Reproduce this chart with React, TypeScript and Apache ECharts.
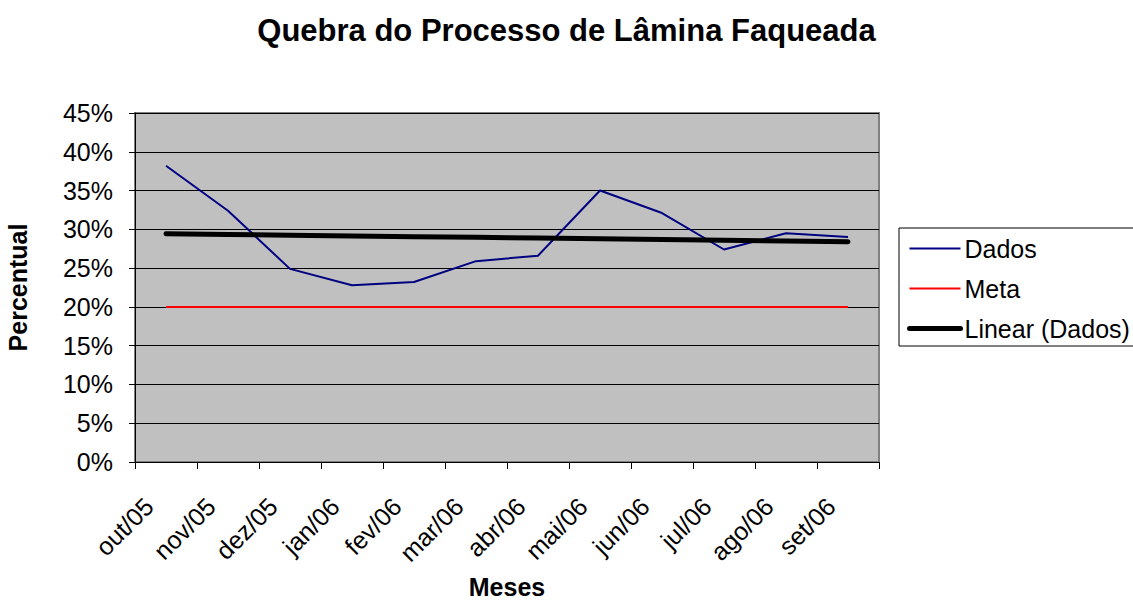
import React, { useEffect, useRef } from "react";
import * as echarts from "echarts";

const months = ["out/05", "nov/05", "dez/05", "jan/06", "fev/06", "mar/06", "abr/06", "mai/06", "jun/06", "jul/06", "ago/06", "set/06"];
const dados = [38.2, 32.4, 24.9, 22.8, 23.2, 25.9, 26.6, 35.0, 32.1, 27.4, 29.5, 29.0];
const meta = [20, 20, 20, 20, 20, 20, 20, 20, 20, 20, 20, 20];
const yTicks = { min: 0, max: 45, interval: 5 };

// Linear trendline (least squares) of Dados, as Excel's "Linear (Dados)"
function linearTrend(values: number[]): number[] {
  const n = values.length;
  const xs = values.map((_, i) => i + 1);
  const mx = xs.reduce((a, b) => a + b, 0) / n;
  const my = values.reduce((a, b) => a + b, 0) / n;
  let sxy = 0, sxx = 0;
  for (let i = 0; i < n; i++) {
    sxy += (xs[i] - mx) * (values[i] - my);
    sxx += (xs[i] - mx) * (xs[i] - mx);
  }
  const b = sxy / sxx;
  const a = my - b * mx;
  return xs.map((x) => +(a + b * x).toFixed(3));
}
const trend = linearTrend(dados);

const FONT = "'Liberation Sans', Arial, sans-serif";

export default function App() {
  const ref = useRef<HTMLDivElement>(null);
  useEffect(() => {
    if (!ref.current) return;
    const chart = echarts.init(ref.current, undefined, { renderer: "svg" });
    chart.setOption({
      animation: false,
      backgroundColor: "#ffffff",
      textStyle: { fontFamily: FONT },
      title: {
        text: "Quebra do Processo de Lâmina Faqueada",
        left: "center",
        top: 15,
        padding: 0,
        textStyle: { fontFamily: FONT, fontSize: 31, fontWeight: "bold", color: "#000" },
      },
      legend: {
        orient: "vertical",
        left: 899,
        top: 228,
        itemWidth: 51,
        itemHeight: 25,
        itemGap: 15,
        padding: [8, 6, 5, 8],
        borderColor: "#000",
        borderWidth: 1,
        backgroundColor: "#fff",
        lineStyle: { width: "inherit" },
        itemStyle: { opacity: 0 },
        textStyle: { fontFamily: FONT, fontSize: 25, color: "#000", padding: [0, 0, 0, -1] },
        data: ["Dados", "Meta", "Linear (Dados)"],
      },
      grid: {
        left: 135,
        right: 254,
        top: 113,
        bottom: 138,
        outerBoundsMode: "none",
        containLabel: false,
        show: true,
        backgroundColor: "#C0C0C0",
        borderColor: "#808080",
        borderWidth: 2,
      },
      xAxis: {
        type: "category",
        data: months,
        boundaryGap: true,
        name: "Meses",
        nameLocation: "middle",
        nameGap: 112,
        nameMoveOverlap: false,
        nameTextStyle: { fontFamily: FONT, fontSize: 25, fontWeight: "bold", color: "#000" },
        axisLine: { lineStyle: { color: "#000", width: 1 } },
        axisTick: { show: true, length: 7, interval: 0, lineStyle: { color: "#000" } },
        axisLabel: {
          interval: 0,
          rotate: 45,
          margin: 23,
          padding: [0, 24, 0, 0],
          fontFamily: FONT,
          fontSize: 25,
          color: "#000",
        },
        splitLine: { show: false },
      },
      yAxis: {
        type: "value",
        min: yTicks.min,
        max: yTicks.max,
        interval: yTicks.interval,
        name: "Percentual",
        nameLocation: "middle",
        nameRotate: 90,
        nameGap: 105,
        nameTextStyle: { fontFamily: FONT, fontSize: 25, fontWeight: "bold", color: "#000" },
        axisLine: { show: true, lineStyle: { color: "#000", width: 1 } },
        axisTick: { show: true, length: 6, lineStyle: { color: "#000" } },
        axisLabel: { formatter: "{value}%", margin: 22, fontFamily: FONT, fontSize: 25, color: "#000" },
        splitLine: { show: true, lineStyle: { color: "#000", width: 1 } },
      },
      series: [
        {
          name: "Dados",
          type: "line",
          data: dados,
          symbol: "none",
          lineStyle: { color: "#000080", width: 2 },
          itemStyle: { color: "#000080" },
          z: 3,
        },
        {
          name: "Meta",
          type: "line",
          data: meta,
          symbol: "none",
          lineStyle: { color: "#FF0000", width: 2 },
          itemStyle: { color: "#FF0000" },
          z: 2,
        },
        {
          name: "Linear (Dados)",
          type: "line",
          data: trend,
          symbol: "none",
          lineStyle: { color: "#000000", width: 5, cap: "round" },
          itemStyle: { color: "#000000" },
          z: 4,
        },
      ],
    });
    return () => chart.dispose();
  }, []);
  return <div ref={ref} style={{ width: 1133, height: 600, position: "absolute", left: 0, top: 0 }} />;
}
